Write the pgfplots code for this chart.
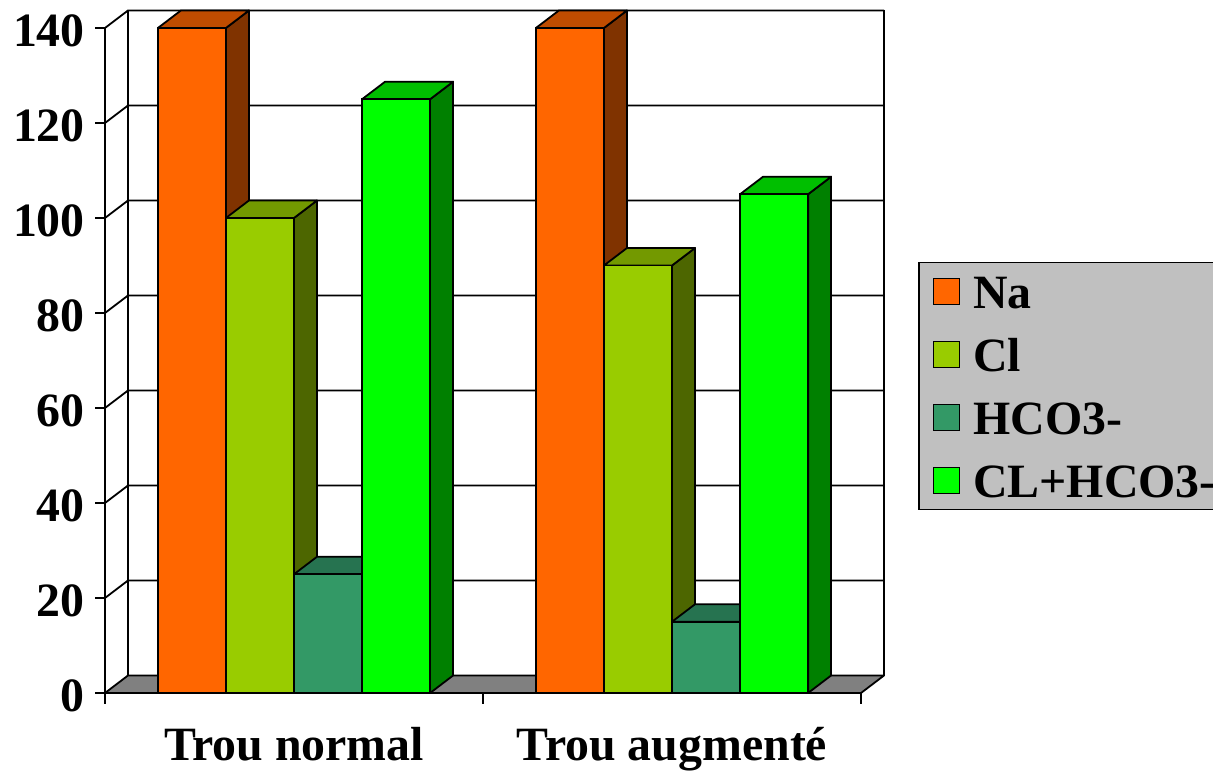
\documentclass[border=0pt]{standalone}
\usepackage{pgfplots}
\pgfplotsset{compat=1.18}
\usepackage{fontspec}
\setmainfont{Liberation Serif}
\definecolor{naF}{HTML}{FF6600}\definecolor{naT}{HTML}{BF4C00}\definecolor{naS}{HTML}{803300}
\definecolor{clF}{HTML}{99CC00}\definecolor{clT}{HTML}{739900}\definecolor{clS}{HTML}{4D6600}
\definecolor{hcF}{HTML}{339966}\definecolor{hcT}{HTML}{267350}\definecolor{hcS}{HTML}{1A4D33}
\definecolor{smF}{HTML}{00FF00}\definecolor{smT}{HTML}{00BF00}\definecolor{smS}{HTML}{008000}
\definecolor{floorC}{HTML}{808080}\definecolor{legC}{HTML}{C0C0C0}
% depth faces (side, top) of a bar: #1 centre, #2 value, #3 top colour, #4 side colour
\newcommand\depthfaces[4]{%
  \pgfmathsetmacro\cXl{#1-0.09}\pgfmathsetmacro\cXr{#1+0.09}%
  \pgfmathsetmacro\cXlb{#1-0.09+0.0608}\pgfmathsetmacro\cXrb{#1+0.09+0.0608}%
  \pgfmathsetmacro\cVb{#2+3.684}%
  \addplot[forget plot, fill=#4, draw=black, line width=1.8bp, line join=round]
    coordinates {(\cXr,0) (\cXrb,3.684) (\cXrb,\cVb) (\cXr,#2)} -- cycle;
  \addplot[forget plot, fill=#3, draw=black, line width=1.8bp, line join=round]
    coordinates {(\cXl,#2) (\cXr,#2) (\cXrb,\cVb) (\cXlb,\cVb)} -- cycle;
}
\newcommand\bigfont{\fontsize{48}{57}\selectfont\bfseries}
\begin{document}
\begin{tikzpicture}
\useasboundingbox (0,0) rectangle (1213bp,773bp);
\begin{axis}[
  at={(105bp,80bp)}, anchor=south west,
  scale only axis, width=779bp, height=682.5bp,
  xmin=-0.5, xmax=1.5608, ymin=0, ymax=143.684,
  clip=false,
  axis line style={draw=none},
  ytick={0,20,40,60,80,100,120,140}, ytick pos=left,
  xtick={0,1}, xticklabels={Trou normal, Trou augmenté}, xtick pos=bottom,
  x tick style={draw=none},
  y tick style={draw=black, line width=1.8bp},
  tick align=outside, major tick length=10bp,
  ticklabel style={font=\bigfont},
  /pgf/number format/assume math mode=true,
  yticklabel style={inner sep=0pt, xshift=-10bp, yshift=-3bp},
  xticklabel style={inner sep=0pt, text height=32bp, text depth=10bp, yshift=-25bp},
  legend image code/.code={\draw[#1, draw=black, line width=1.5bp] (0bp,-13bp) rectangle (26bp,13bp);},
  legend cell align=left,
  legend style={at={(1.0437,0.632)}, anchor=north west, fill=legC, draw=black,
    line width=1.5bp, inner xsep=14bp, inner ysep=10bp, row sep=25bp,
    font=\bigfont,
    nodes={inner sep=2bp, text height=34bp, text depth=0bp},
    /tikz/every odd column/.append style={column sep=11bp}},
]
% back wall and side-wall grid lines
\addplot[forget plot, black, line width=1.8bp] coordinates {(-0.5,20) (-0.4392,23.684) (1.5608,23.684)};
\addplot[forget plot, black, line width=1.8bp] coordinates {(-0.5,40) (-0.4392,43.684) (1.5608,43.684)};
\addplot[forget plot, black, line width=1.8bp] coordinates {(-0.5,60) (-0.4392,63.684) (1.5608,63.684)};
\addplot[forget plot, black, line width=1.8bp] coordinates {(-0.5,80) (-0.4392,83.684) (1.5608,83.684)};
\addplot[forget plot, black, line width=1.8bp] coordinates {(-0.5,100) (-0.4392,103.684) (1.5608,103.684)};
\addplot[forget plot, black, line width=1.8bp] coordinates {(-0.5,120) (-0.4392,123.684) (1.5608,123.684)};
\addplot[forget plot, black, line width=1.8bp] coordinates {(-0.5,140) (-0.4392,143.684) (1.5608,143.684)};
\addplot[forget plot, black, line width=1.8bp] coordinates {(-0.4392,3.684) (-0.4392,143.684)};
\addplot[forget plot, black, line width=1.8bp] coordinates {(1.5608,3.684) (1.5608,143.684)};
% floor
\addplot[forget plot, fill=floorC, draw=black, line width=1.8bp, line join=round]
  coordinates {(-0.5,0) (1.5,0) (1.5608,3.684) (-0.4392,3.684)} -- cycle;
% front value axis and category tick marks
\addplot[forget plot, black, line width=1.8bp] coordinates {(-0.5,0) (-0.5,140)};
\addplot[forget plot, black, line width=1.8bp] coordinates {(-0.5,0) (-0.5,-2.316)};
\addplot[forget plot, black, line width=1.8bp] coordinates {(0.5,0) (0.5,-2.316)};
\addplot[forget plot, black, line width=1.8bp] coordinates {(1.5,0) (1.5,-2.316)};
% Na
\depthfaces{-0.27}{140}{naT}{naS}
\depthfaces{0.73}{140}{naT}{naS}
\addplot[forget plot, ybar, bar width=0.18, bar shift=0pt, fill=naF, draw=black, line width=1.8bp]
  coordinates {(-0.27,140) (0.73,140)};
% Cl
\depthfaces{-0.09}{100}{clT}{clS}
\depthfaces{0.91}{90}{clT}{clS}
\addplot[forget plot, ybar, bar width=0.18, bar shift=0pt, fill=clF, draw=black, line width=1.8bp]
  coordinates {(-0.09,100) (0.91,90)};
% HCO3-
\depthfaces{0.09}{25}{hcT}{hcS}
\depthfaces{1.09}{15}{hcT}{hcS}
\addplot[forget plot, ybar, bar width=0.18, bar shift=0pt, fill=hcF, draw=black, line width=1.8bp]
  coordinates {(0.09,25) (1.09,15)};
% CL+HCO3-
\depthfaces{0.27}{125}{smT}{smS}
\depthfaces{1.27}{105}{smT}{smS}
\addplot[forget plot, ybar, bar width=0.18, bar shift=0pt, fill=smF, draw=black, line width=1.8bp]
  coordinates {(0.27,125) (1.27,105)};
% legend
\addlegendimage{fill=naF}\addlegendentry{Na}
\addlegendimage{fill=clF}\addlegendentry{Cl}
\addlegendimage{fill=hcF}\addlegendentry{HCO3-}
\addlegendimage{fill=smF}\addlegendentry{CL+HCO3-}
\end{axis}
\end{tikzpicture}
\end{document}
